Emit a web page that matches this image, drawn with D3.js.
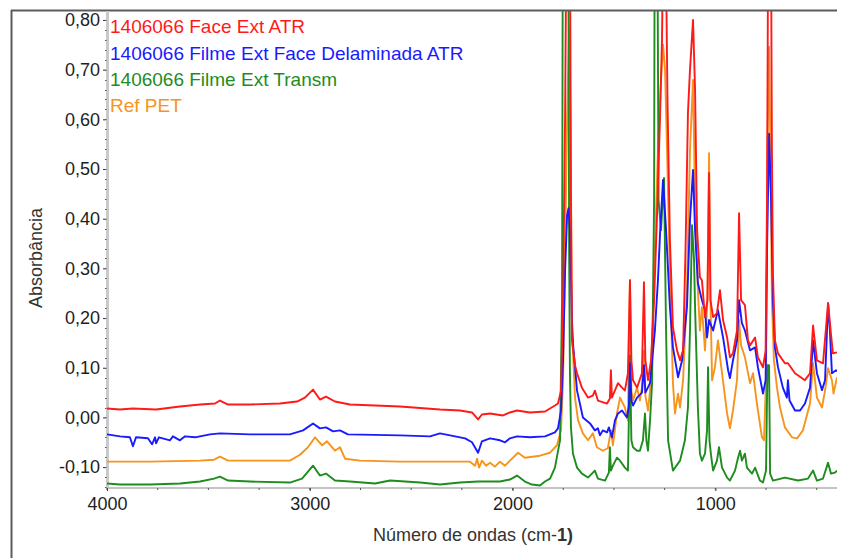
<!DOCTYPE html>
<html><head><meta charset="utf-8">
<script src="https://cdn.jsdelivr.net/npm/d3@7"></script>
<style>
body{margin:0;background:#fff}
svg{display:block}
text{font-family:"Liberation Sans",Arial,sans-serif}
</style>
</head><body>
<svg id="chart" width="847" height="558"></svg>
<script>
// ---------- DATA ----------
const seriesNames = ["1406066 Face Ext ATR","1406066 Filme Ext Face Delaminada ATR","1406066 Filme Ext Transm","Ref PET"];

// [wavenumber cm-1, absorbance]
const faceExtATR = [
[4000,0.018],[3936,0.016],[3872,0.018],[3758,0.016],[3640,0.022],[3541,0.026],[3467,0.028],[3443,0.034],[3403,0.026],[3295,0.026],[3147,0.028],[3063,0.032],[3024,0.040],[2984,0.056],[2950,0.036],[2920,0.042],[2876,0.032],[2802,0.026],[2555,0.022],[2358,0.016],[2259,0.014],[2200,0.010],[2170,-0.004],[2151,0.006],[2111,0.008],[2047,0.004],[2013,0.010],[1978,0.014],[1914,0.010],[1840,0.012],[1791,0.024],[1776,0.028],[1761,0.054],[1751,0.236],[1741,0.60],[1734,1.0],[1724,1.2],[1717,1.0],[1712,0.44],[1707,0.155],[1692,0.105],[1682,0.089],[1658,0.060],[1628,0.040],[1604,0.044],[1594,0.054],[1579,0.034],[1534,0.028],[1520,0.038],[1515,0.095],[1510,0.040],[1480,0.069],[1460,0.060],[1446,0.054],[1431,0.089],[1421,0.276],[1414,0.115],[1406,0.075],[1386,0.060],[1362,0.089],[1352,0.272],[1345,0.115],[1332,0.075],[1317,0.115],[1302,0.236],[1288,0.40],[1273,0.60],[1263,0.76],[1253,1.1],[1243,0.9],[1236,0.64],[1224,0.357],[1209,0.181],[1189,0.135],[1174,0.115],[1159,0.135],[1147,0.337],[1135,0.613],[1125,0.70],[1110,0.80],[1100,0.66],[1090,0.377],[1076,0.282],[1066,0.276],[1051,0.202],[1039,0.236],[1031,0.492],[1024,0.236],[1011,0.202],[992,0.210],[977,0.256],[962,0.196],[942,0.161],[928,0.121],[913,0.129],[893,0.175],[883,0.411],[873,0.236],[854,0.226],[839,0.155],[829,0.145],[804,0.161],[790,0.121],[765,0.101],[752,0.135],[745,0.44],[737,1.2],[728,1.2],[721,0.54],[716,0.290],[706,0.155],[691,0.129],[657,0.109],[642,0.109],[607,0.089],[558,0.075],[533,0.089],[518,0.185],[499,0.115],[469,0.109],[444,0.230],[430,0.169],[420,0.129],[400,0.131]
];

const filmeDelaminadaATR = [
[4000,-0.034],[3936,-0.038],[3887,-0.040],[3872,-0.058],[3857,-0.040],[3798,-0.042],[3778,-0.054],[3763,-0.040],[3758,-0.052],[3744,-0.040],[3689,-0.046],[3675,-0.038],[3640,-0.046],[3615,-0.038],[3566,-0.040],[3492,-0.034],[3443,-0.032],[3295,-0.034],[3098,-0.034],[3033,-0.026],[2984,-0.012],[2950,-0.022],[2920,-0.020],[2885,-0.028],[2851,-0.026],[2812,-0.034],[2555,-0.036],[2407,-0.038],[2358,-0.032],[2308,-0.036],[2234,-0.042],[2200,-0.050],[2170,-0.071],[2151,-0.048],[2111,-0.042],[2062,-0.046],[2037,-0.050],[2013,-0.042],[1978,-0.038],[1914,-0.040],[1840,-0.038],[1791,-0.030],[1776,-0.022],[1761,0.014],[1751,0.115],[1741,0.296],[1731,0.407],[1724,0.421],[1717,0.377],[1707,0.196],[1702,0.149],[1682,0.054],[1653,0.0],[1618,-0.012],[1594,-0.026],[1579,-0.022],[1569,-0.036],[1555,-0.026],[1534,-0.030],[1525,-0.020],[1510,-0.040],[1495,-0.006],[1480,0.008],[1460,0.014],[1436,0.0],[1426,0.024],[1421,0.109],[1414,0.034],[1406,0.024],[1386,0.040],[1362,0.050],[1352,0.105],[1345,0.050],[1322,0.069],[1298,0.175],[1283,0.276],[1273,0.367],[1258,0.478],[1243,0.377],[1224,0.222],[1209,0.141],[1184,0.081],[1164,0.115],[1140,0.222],[1125,0.397],[1110,0.498],[1100,0.377],[1086,0.270],[1066,0.236],[1051,0.216],[1041,0.161],[1031,0.196],[1011,0.175],[987,0.216],[962,0.161],[937,0.095],[928,0.079],[913,0.115],[893,0.155],[883,0.236],[869,0.190],[854,0.175],[829,0.135],[804,0.141],[790,0.101],[765,0.048],[752,0.075],[745,0.337],[735,0.571],[725,0.4375],[716,0.236],[706,0.141],[691,0.101],[667,0.060],[647,0.040],[642,0.075],[634,0.034],[607,0.014],[582,0.014],[558,0.028],[533,0.060],[518,0.155],[499,0.089],[474,0.055],[459,0.075],[444,0.230],[435,0.175],[425,0.089],[405,0.095],[400,0.093]
];

const filmeTransm = [
[4000,-0.133],[3936,-0.135],[3788,-0.135],[3640,-0.133],[3541,-0.129],[3472,-0.123],[3443,-0.119],[3403,-0.127],[3295,-0.129],[3098,-0.131],[3038,-0.123],[2984,-0.097],[2950,-0.117],[2920,-0.113],[2876,-0.127],[2802,-0.129],[2678,-0.133],[2604,-0.127],[2456,-0.131],[2358,-0.135],[2259,-0.131],[2170,-0.129],[2062,-0.129],[2013,-0.125],[1978,-0.117],[1939,-0.129],[1904,-0.135],[1865,-0.137],[1840,-0.129],[1815,-0.123],[1791,-0.101],[1766,-0.046],[1756,0.236],[1751,1.2],[1726,1.2],[1721,0.337],[1717,0.089],[1712,-0.020],[1702,-0.073],[1682,-0.101],[1658,-0.113],[1628,-0.121],[1594,-0.107],[1579,-0.123],[1544,-0.127],[1525,-0.111],[1520,-0.060],[1515,-0.107],[1505,-0.097],[1485,-0.081],[1470,-0.087],[1446,-0.101],[1431,-0.107],[1421,0.125],[1414,-0.046],[1406,-0.060],[1386,-0.067],[1372,-0.067],[1357,-0.046],[1347,0.008],[1340,-0.046],[1332,-0.067],[1322,-0.006],[1312,0.069],[1302,0.4375],[1298,1.2],[1288,1.2],[1280,0.4375],[1268,0.377],[1253,0.482],[1243,0.175],[1233,-0.046],[1209,-0.107],[1174,-0.087],[1150,-0.046],[1135,0.020],[1125,0.175],[1115,0.387],[1105,0.317],[1100,0.222],[1086,0.020],[1076,-0.073],[1066,-0.087],[1051,-0.073],[1041,-0.026],[1036,0.101],[1029,-0.046],[1021,-0.077],[1011,-0.107],[992,-0.087],[982,-0.060],[967,-0.101],[942,-0.121],[928,-0.127],[903,-0.107],[888,-0.081],[878,-0.067],[869,-0.087],[854,-0.073],[844,-0.101],[819,-0.113],[804,-0.101],[780,-0.127],[765,-0.131],[750,-0.107],[743,0.105],[735,0.105],[730,-0.113],[716,-0.127],[657,-0.121],[592,-0.127],[543,-0.123],[518,-0.107],[499,-0.127],[469,-0.123],[444,-0.091],[430,-0.113],[410,-0.111],[400,-0.107]
];

const refPET = [
[4000,-0.089],[3788,-0.089],[3541,-0.087],[3472,-0.085],[3443,-0.079],[3403,-0.087],[3098,-0.087],[3048,-0.075],[3009,-0.060],[2974,-0.040],[2939,-0.056],[2915,-0.048],[2876,-0.067],[2851,-0.060],[2826,-0.083],[2752,-0.087],[2555,-0.089],[2210,-0.089],[2185,-0.097],[2175,-0.083],[2165,-0.101],[2151,-0.087],[2131,-0.097],[2111,-0.091],[2087,-0.099],[2062,-0.089],[2037,-0.097],[2013,-0.087],[1973,-0.071],[1939,-0.081],[1865,-0.077],[1815,-0.071],[1781,-0.056],[1761,-0.026],[1751,0.075],[1741,0.337],[1731,0.60],[1721,0.784],[1714,0.60],[1707,0.175],[1692,0.040],[1677,-0.006],[1653,-0.032],[1628,-0.046],[1604,-0.032],[1584,-0.060],[1555,-0.067],[1530,-0.062],[1515,-0.026],[1505,-0.056],[1485,0.008],[1470,0.040],[1446,0.020],[1431,-0.006],[1421,0.276],[1414,0.054],[1406,0.034],[1386,0.060],[1372,0.034],[1362,0.060],[1352,0.135],[1345,0.044],[1332,0.014],[1322,0.054],[1312,0.155],[1298,0.337],[1283,0.538],[1268,0.679],[1258,0.750],[1248,0.70],[1238,0.538],[1224,0.290],[1209,0.069],[1199,0.008],[1184,0.048],[1174,0.020],[1159,0.075],[1140,0.256],[1125,0.538],[1110,0.679],[1100,0.4375],[1086,0.256],[1076,0.175],[1066,0.222],[1051,0.135],[1039,0.236],[1031,0.532],[1024,0.236],[1016,0.075],[1002,0.101],[987,0.155],[967,0.089],[942,0.008],[928,-0.022],[913,0.014],[893,0.075],[883,0.196],[873,0.145],[854,0.121],[829,0.069],[814,0.089],[795,0.028],[770,-0.040],[760,-0.046],[750,0.075],[743,0.538],[735,0.746],[728,0.538],[721,0.236],[711,0.115],[696,0.060],[681,0.020],[657,-0.020],[622,-0.040],[597,-0.042],[568,-0.026],[533,0.028],[518,0.109],[499,0.040],[474,0.020],[459,0.054],[444,0.099],[425,0.075],[417,0.048],[400,0.081]
];

const xTicks = [4000, 3000, 2000, 1000];
const xMinorTicks = d3.range(4000, 399, -250);
const yTicks = [-0.10, 0.00, 0.10, 0.20, 0.30, 0.40, 0.50, 0.60, 0.70, 0.80];
const yMinorTicks = d3.range(-0.14, 0.81, 0.02);

// ---------- LAYOUT ----------
const colors = ["#ff1a1a", "#1a1aff", "#1e8c1e", "#f7941d"];
const series = [faceExtATR, filmeDelaminadaATR, filmeTransm, refPET];
const drawOrder = [3, 2, 1, 0];

const plot = {left: 107, right: 837, top: 11, bottom: 488};
const svg = d3.select("#chart");

const x = d3.scaleLinear().domain([4000, 400]).range([plot.left, plot.right]);
const y = d3.scaleLinear().domain([-0.142, 0.818]).range([plot.bottom, plot.top]);

// outer frame (top and left)
svg.append("line").attr("x1", 11).attr("x2", plot.right).attr("y1", 10.5).attr("y2", 10.5)
  .attr("stroke", "#5c5c5c").attr("stroke-width", 2);
svg.append("line").attr("x1", 11.5).attr("x2", 11.5).attr("y1", 10).attr("y2", 558)
  .attr("stroke", "#5c5c5c").attr("stroke-width", 2);

// clip
svg.append("defs").append("clipPath").attr("id", "clip")
  .append("rect").attr("x", plot.left).attr("y", plot.top)
  .attr("width", plot.right - plot.left).attr("height", plot.bottom - plot.top);

// axes lines
svg.append("line").attr("x1", plot.left + 0.5).attr("x2", plot.left + 0.5)
  .attr("y1", plot.top).attr("y2", plot.bottom + 1)
  .attr("stroke", "#c9c9c9").attr("stroke-width", 3);
svg.append("line").attr("x1", plot.left).attr("x2", plot.right)
  .attr("y1", plot.bottom).attr("y2", plot.bottom)
  .attr("stroke", "#c4c4c4").attr("stroke-width", 2);

// y axis via d3.axisLeft (major)
const yAxis = d3.axisLeft(y).tickValues(yTicks).tickSize(3).tickPadding(3)
  .tickFormat(d => d3.format(".2f")(d).replace(".", ",").replace("−", "-"));
const gy = svg.append("g").attr("transform", `translate(${plot.left - 1},0)`).call(yAxis);
gy.select(".domain").remove();
gy.selectAll(".tick line").attr("stroke", "#333");
gy.selectAll(".tick text").attr("font-size", 18).attr("fill", "#1e1e1e")
  .attr("font-family", '"Liberation Sans",Arial,sans-serif');

// y minor ticks
svg.append("g").selectAll("line").data(yMinorTicks).join("line")
  .attr("x1", plot.left - 2).attr("x2", plot.left - 0.5)
  .attr("y1", d => Math.round(y(d)) + 0.5).attr("y2", d => Math.round(y(d)) + 0.5)
  .attr("stroke", "#555").attr("stroke-width", 1);

// x axis
const xAxis = d3.axisBottom(x).tickValues(xTicks).tickSize(3).tickPadding(6)
  .tickFormat(d3.format("d"));
const gx = svg.append("g").attr("transform", `translate(0,${plot.bottom})`).call(xAxis);
gx.select(".domain").remove();
gx.selectAll(".tick line").attr("stroke", "#333");
gx.selectAll(".tick text").attr("font-size", 18).attr("fill", "#1e1e1e")
  .attr("font-family", '"Liberation Sans",Arial,sans-serif');
svg.append("g").selectAll("line").data(xMinorTicks).join("line")
  .attr("x1", d => x(d)).attr("x2", d => x(d))
  .attr("y1", plot.bottom).attr("y2", plot.bottom + 2)
  .attr("stroke", "#555").attr("stroke-width", 1);

// series lines
const line = d3.line().x(d => x(d[0])).y(d => y(d[1]));
const gLines = svg.append("g").attr("clip-path", "url(#clip)");
drawOrder.forEach(i => {
  gLines.append("path").datum(series[i]).attr("d", line)
    .attr("fill", "none").attr("stroke", colors[i]).attr("stroke-width", 1.9)
    .attr("stroke-linejoin", "round");
});

// legend
const legendY = [33, 60, 86, 112];
svg.append("g").selectAll("text").data(seriesNames).join("text")
  .attr("x", 110).attr("y", (d, i) => legendY[i])
  .attr("font-size", 19).attr("fill", (d, i) => colors[i]).text(d => d);

// axis titles
svg.append("text").attr("transform", "translate(42,258) rotate(-90)")
  .attr("text-anchor", "middle").attr("font-size", 18).attr("fill", "#333")
  .text("Absorbância");
const xt = svg.append("text").attr("x", 473).attr("y", 541)
  .attr("text-anchor", "middle").attr("font-size", 18).attr("fill", "#333");
xt.append("tspan").text("Número de ondas (cm-");
xt.append("tspan").attr("font-weight", "bold").text("1)");
</script>
</body></html>
